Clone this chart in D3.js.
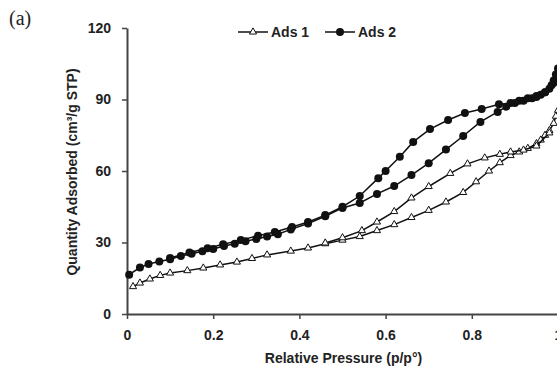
<!DOCTYPE html>
<html lang="en">
<head>
<meta charset="utf-8">
<script src="https://d3js.org/d3.v7.min.js"></script>
<style>
  body { margin: 0; background: #fff; }
  text { font-family: "Liberation Sans", Arial, sans-serif; font-weight: bold; fill: #222; }
</style>
</head>
<body>
<svg id="chart"></svg>
<script>
// Ads 1 (open triangles)
const ads1AdsP = [0.014,0.03,0.053,0.077,0.1,0.14,0.177,0.216,0.255,0.29,0.325,0.38,0.42,0.46,0.5,0.54,0.58,0.62,0.66,0.70,0.74,0.78,0.81,0.84,0.865,0.89,0.91,0.93,0.95,0.96,0.97,0.98,0.99,0.995,1.0];
const ads1AdsV = [11.5,13,14.7,16.2,17.2,18.2,19.3,20.6,21.8,23.3,24.8,26.4,27.7,29.5,31,32.5,35,37.5,40.5,43.5,47,51,55.5,60,63.5,66.5,68,69.5,71.5,73,75,77,80,83,85.5];
const ads1DesP = [0.98,0.95,0.92,0.89,0.865,0.83,0.79,0.75,0.70,0.66,0.62,0.58,0.545,0.5,0.46];
const ads1DesV = [76,70.5,68.8,68,67,65.5,63,59,53.5,48.7,43,38.6,35,32,29.8];
// Ads 2 (filled circles)
const ads2AdsP = [0.005,0.03,0.05,0.075,0.1,0.125,0.15,0.175,0.2,0.225,0.25,0.275,0.3,0.325,0.35,0.38,0.42,0.46,0.5,0.54,0.58,0.62,0.66,0.70,0.74,0.78,0.82,0.86,0.88,0.9,0.92,0.94,0.95,0.96,0.97,0.98,0.985,0.99,0.995,1.0];
const ads2AdsV = [16.5,19.5,21,22,23,24.3,25.3,26.3,27.3,28.5,29.5,30.5,31.5,32.5,33.5,35.5,38,41,44.5,46.6,50.4,53.7,58.3,63.3,69,74.7,80.6,84.8,87,88.5,89.5,90.5,91,92,93,94.5,96,98,100.5,103];
const ads2DesP = [0.99,0.97,0.95,0.93,0.91,0.89,0.863,0.823,0.784,0.745,0.703,0.664,0.633,0.6,0.583,0.54,0.5,0.46,0.42,0.383,0.343,0.304,0.264,0.223,0.187,0.145,0.1];
const ads2DesV = [97,93,91.5,90.5,89.5,88.5,88,86,84.3,81.4,77.6,72.2,66,60,57,49.5,45,41.5,38.6,36.5,34.4,32.8,31,29.3,27.6,25.8,23.5];

const yTicks = [0,30,60,90,120];
const xTicks = [0,0.2,0.4,0.6,0.8,1];

const W = 557, H = 371;
const svg = d3.select('#chart').attr('width', W).attr('height', H);

const x = d3.scaleLinear().domain([0, 1]).range([127, 558]);
const y = d3.scaleLinear().domain([0, 120]).range([314, 28]);

// axes
const xAxis = d3.axisBottom(x).tickValues(xTicks).tickSize(5).tickSizeOuter(0)
  .tickFormat(d => d === 0 ? '0' : d === 1 ? '1' : d3.format('.1f')(d));
const yAxis = d3.axisLeft(y).tickValues(yTicks).tickSize(5).tickSizeOuter(0);

const gx = svg.append('g').attr('transform', 'translate(0,' + y(0) + ')').call(xAxis);
const gy = svg.append('g').attr('transform', 'translate(' + x(0) + ',0)').call(yAxis);
[gx, gy].forEach(g => {
  g.select('.domain').attr('stroke', '#444').attr('stroke-width', 2);
  g.selectAll('.tick line').attr('stroke', '#444').attr('stroke-width', 1.5);
  g.selectAll('.tick text').style('font-size', '14px').attr('font-family', null).attr('fill', '#222');
});
gx.selectAll('.tick text').attr('dy', '1.3em');
gy.selectAll('.tick text').attr('x', -16);

// axis titles
svg.append('text').attr('x', (x(0) + 558) / 2 + 1).attr('y', 363).attr('text-anchor', 'middle')
  .style('font-size', '14px').text('Relative Pressure (p/p°)');
svg.append('text').attr('transform', 'translate(77,172) rotate(-90)').attr('text-anchor', 'middle')
  .style('font-size', '14px').text('Quantity Adsorbed (cm³/g STP)');
svg.append('text').attr('x', 9).attr('y', 25).style('font-family', '"Liberation Serif", "Times New Roman", serif')
  .style('font-weight', 'normal').style('font-size', '20px').text('(a)');

const line = d3.line().x(d => x(d[0])).y(d => y(d[1]));
const tri = d3.symbol().type(d3.symbolTriangle).size(22);

function series(ps, vs, kind) {
  const pts = ps.map((p, i) => [p, vs[i]]);
  svg.append('path').datum(pts).attr('d', line).attr('fill', 'none').attr('stroke', '#111').attr('stroke-width', 1.5);
  if (kind === 'circle') {
    svg.append('g').selectAll('circle').data(pts).enter().append('circle')
      .attr('cx', d => x(d[0])).attr('cy', d => y(d[1])).attr('r', 4).attr('fill', '#111');
  } else {
    svg.append('g').selectAll('path').data(pts).enter().append('path')
      .attr('d', tri).attr('transform', d => 'translate(' + x(d[0]) + ',' + y(d[1]) + ')')
      .attr('fill', '#fff').attr('stroke', '#111').attr('stroke-width', 1);
  }
}
series(ads1AdsP, ads1AdsV, 'tri');
series(ads1DesP, ads1DesV, 'tri');
series(ads2AdsP, ads2AdsV, 'circle');
series(ads2DesP, ads2DesV, 'circle');

// legend
const leg = svg.append('g');
leg.append('line').attr('x1', 238).attr('x2', 268).attr('y1', 32).attr('y2', 32).attr('stroke', '#111').attr('stroke-width', 1.5);
leg.append('path').attr('d', tri).attr('transform', 'translate(253,32)').attr('fill', '#fff').attr('stroke', '#111');
leg.append('text').attr('x', 271).attr('y', 37).style('font-size', '14px').text('Ads 1');
leg.append('line').attr('x1', 325).attr('x2', 355).attr('y1', 32).attr('y2', 32).attr('stroke', '#111').attr('stroke-width', 1.5);
leg.append('circle').attr('cx', 340).attr('cy', 32).attr('r', 4).attr('fill', '#111');
leg.append('text').attr('x', 358).attr('y', 37).style('font-size', '14px').text('Ads 2');
</script>
</body>
</html>
